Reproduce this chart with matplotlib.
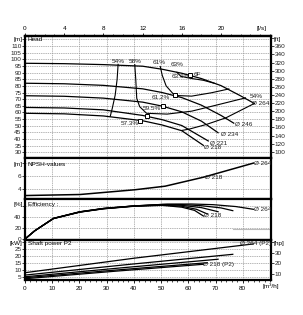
import matplotlib
matplotlib.use('Agg')
import matplotlib.pyplot as plt
from matplotlib.ticker import FixedLocator, NullFormatter

plt.rcParams['font.family'] = ['Liberation Sans', 'DejaVu Sans']

# flow in l/s
dia_labels = ['Ø 264', 'Ø 246', 'Ø 234', 'Ø 221', 'Ø 218']

# head curves [m]
head_q = [
    [0, 4, 8, 12, 14, 16, 18, 20, 22, 23.4],
    [0, 4, 8, 12, 14, 16, 18, 20, 21.3],
    [0, 4, 8, 12, 14, 16, 18, 19.7],
    [0, 4, 8, 12, 14, 16, 18.7],
    [0, 4, 8, 12, 14, 16, 18.2],
]
head_h = [
    [97.0, 96.7, 96.0, 94.8, 92.5, 89.5, 85.5, 80.2, 72.5, 66.8],
    [82.0, 81.6, 80.4, 77.8, 75.0, 71.2, 65.5, 57.8, 52.0],
    [72.6, 72.2, 70.8, 67.8, 64.8, 60.5, 53.5, 44.8],
    [63.8, 63.4, 62.0, 57.8, 54.6, 50.2, 38.6],
    [59.4, 59.0, 57.4, 53.8, 50.6, 46.3, 35.3],
]

# iso-efficiency lines on the head chart
iso_54_left_q = [9.5, 9.4, 9.2, 8.9, 8.7]
iso_54_left_h = [96.2, 85, 73, 63, 57.2]
iso_54_right_q = [23.4, 20.5, 18.5, 16.8, 16.0]
iso_54_right_h = [66.8, 56.0, 51.0, 47.6, 46.5]
iso_58_q = [11.2, 11.3, 11.4, 11.7, 12.4, 14.5, 17.0, 19.5, 22.5]
iso_58_h = [96.0, 85.0, 70.7, 64.4, 59.4, 58.8, 61.0, 65.5, 71.0]
iso_61_q = [13.8, 14.0, 14.4, 15.0, 15.3, 17.0, 19.0, 20.8]
iso_61_h = [94.6, 88.0, 80.0, 75.0, 72.8, 72.3, 74.8, 77.7]
iso_63_q = [15.5, 15.9, 16.8, 18.2, 19.3]
iso_63_h = [90.2, 87.2, 85.8, 84.2, 82.0]

# best efficiency points
bep_q = [16.8, 15.3, 14.05, 12.4, 11.7]
bep_h = [88.2, 72.8, 64.6, 57.0, 53.9]

# NPSH [m]
npsh_q = [0, 5.6, 11.2, 14.3, 18.2, 23.3]
npsh_v = [2.94, 3.1, 3.84, 4.4, 5.8, 8.0]

# efficiency [%]
eff_q = [
    [0, 1, 2.9, 5.6, 8, 11, 14.5, 17, 19.2, 21.5, 23.3],
    [0, 1, 2.9, 5.6, 8, 11, 14, 16, 18, 20, 21.2],
    [0, 1, 2.9, 5.6, 8, 11, 14, 16, 18, 19.7],
    [0, 1, 2.9, 5.6, 8, 11, 14, 16, 17.5, 18.6],
    [0, 1, 2.9, 5.6, 8, 11, 14, 16, 17.3, 18.2],
]
eff_v = [
    [0, 15, 37.6, 49.6, 55.5, 60, 63.4, 63.6, 62.4, 59, 54],
    [0, 15, 37.5, 49.4, 55.5, 60, 62.8, 62.6, 60.5, 56.5, 51.5],
    [0, 15, 37.3, 49.2, 55.3, 59.8, 62.3, 61.2, 57, 49.6],
    [0, 15, 37.2, 49.0, 55.0, 59.6, 61.8, 59.5, 54, 45.5],
    [0, 15, 37.0, 48.8, 54.8, 59.3, 61.2, 57.8, 52, 41.8],
]

# shaft power P2 [kW]
pow_q = [
    [0, 11.1, 23.3],
    [0, 10.6, 21.2],
    [0, 9.9, 19.7],
    [0, 9.3, 18.6],
    [0, 9.1, 18.2],
]
pow_v = [
    [8.3, 18.6, 28.8],
    [6.6, 14.2, 21.4],
    [5.4, 11.8, 17.9],
    [4.7, 10.2, 15.4],
    [4.0, 9.3, 14.3],
]

m3h_ticks = [0, 10, 20, 30, 40, 50, 60, 70, 80]
lps_ticks = [0, 4, 8, 12, 16, 20]

FS = 4.6
GRID = dict(color='#9a9a9a', linestyle=(0, (2, 1.2)), linewidth=0.5)
W, H = 303, 315


def panel(top, bottom):
    return fig.add_axes([25 / W, (H - bottom) / H, 246 / W, (bottom - top) / H])


def style(ax, ylim, yticks, ylabels):
    ax.set_xlim(0, 25.1)
    ax.set_ylim(*ylim)
    ax.set_xticks([m / 3.6 for m in m3h_ticks])
    ax.set_yticks(yticks)
    ax.set_yticklabels(ylabels)
    ax.grid(True, **GRID)
    ax.set_axisbelow(True)
    ax.tick_params(axis='y', labelsize=FS, length=2, width=0.6, pad=0.5, colors='#222222')
    ax.tick_params(axis='x', length=0, labelbottom=False)
    for s in ax.spines.values():
        s.set_linewidth(1.6)


def right_axis(ax, factor, ylim, ticks, labels):
    r = ax.twinx()
    r.set_ylim(ylim[0] / factor, ylim[1] / factor)
    r.set_yticks(ticks)
    r.set_yticklabels(labels)
    r.tick_params(axis='y', labelsize=FS, length=2, width=0.6, pad=0.5, colors='#222222')
    for s in r.spines.values():
        s.set_visible(False)
    return r


fig = plt.figure(figsize=(W / 100, H / 100), dpi=100)

# ---- head
ax1 = panel(36, 158)
head_ylim = (25.8, 117.5)
hticks = list(range(30, 120, 5))
style(ax1, head_ylim, hticks, [str(t) for t in hticks[:-1]] + [''])
for q, h in zip(head_q, head_h):
    ax1.plot(q, h, color='black', lw=0.9)
for q, h in [(iso_54_left_q, iso_54_left_h), (iso_54_right_q, iso_54_right_h),
             (iso_58_q, iso_58_h), (iso_61_q, iso_61_h), (iso_63_q, iso_63_h)]:
    ax1.plot(q, h, color='black', lw=0.8)
ax1.plot(bep_q, bep_h, ls='none', marker='s', ms=2.6, mfc='white', mec='black', mew=0.7)

for txt, x, y, ha in [('54%', 9.5, 96.6, 'center'), ('58%', 11.2, 96.6, 'center'),
                      ('61%', 13.7, 95.6, 'center'), ('63%', 15.5, 94.2, 'center'),
                      ('63.6%', 15.9, 85.3, 'center'), ('61.2%', 13.8, 69.2, 'center'),
                      ('59.5%', 12.9, 61.3, 'center'), ('57.3%', 10.7, 50.2, 'center')]:
    ax1.text(x, y, txt, fontsize=FS, ha=ha, va='bottom', color='#222222')
ax1.text(17.2, 88.6, '6F', fontsize=FS, ha='left', va='center', color='#222222')
ax1.text(23.6, 70.3, '54%', fontsize=FS, ha='center', va='bottom', color='#222222')
for txt, x, y in [('Ø 264', 23.2, 66.8), ('Ø 246', 21.4, 51.2), ('Ø 234', 20.0, 43.6),
                  ('Ø 221', 18.9, 36.8), ('Ø 218', 18.3, 33.6)]:
    ax1.text(x, y, txt, fontsize=FS, ha='left', va='center', color='#222222')
ax1.text(-0.01, 0.975, '[m]', transform=ax1.transAxes, fontsize=FS, ha='right', va='center')
ax1.text(0.012, 0.975, 'Head', transform=ax1.transAxes, fontsize=FS, ha='left', va='center')
ftt = list(range(100, 381, 20))
right_axis(ax1, 0.3048, head_ylim, ftt, [str(t) for t in ftt[:-1]] + [''])
ax1.text(1.01, 0.975, '[ft]', transform=ax1.transAxes, fontsize=FS, ha='left', va='center')

top = ax1.secondary_xaxis('top')
top.set_xticks(lps_ticks)
top.xaxis.set_minor_locator(FixedLocator(list(range(0, 26))))
top.tick_params(axis='x', which='major', labelsize=FS, length=2.5, width=0.6, pad=1)
top.tick_params(axis='x', which='minor', length=1.5, width=0.5)
top.spines['top'].set_linewidth(1.6)
ax1.text(24.1, 121.5, '[l/s]', fontsize=FS, ha='center', va='bottom')

# ---- NPSH
ax2 = panel(158, 199)
style(ax2, (2.4, 8.8), [4, 6, 8], ['4', '6', ''])
ax2.plot(npsh_q, npsh_v, color='black', lw=1.1)
ax2.text(23.4, 8.0, 'Ø 264', fontsize=FS, ha='left', va='center', color='#222222')
ax2.text(18.4, 5.8, 'Ø 218', fontsize=FS, ha='left', va='center', color='#222222')
ax2.text(-0.01, 0.83, '[m]', transform=ax2.transAxes, fontsize=FS, ha='right', va='center')
ax2.text(0.012, 0.83, 'NPSH-values', transform=ax2.transAxes, fontsize=FS, ha='left', va='center')

# ---- efficiency
ax3 = panel(199, 240)
style(ax3, (-1.8, 72.7), [0, 20, 40, 60], ['0', '20', '40', ''])
for q, v in zip(eff_q, eff_v):
    ax3.plot(q, v, color='black', lw=0.9)
ax3.plot([21.2, 25.1], [17.6, 17.6], color='#bbbbbb', lw=0.8)
ax3.text(23.4, 54, 'Ø 264', fontsize=FS, ha='left', va='center', color='#222222')
ax3.text(18.3, 43.2, 'Ø 218', fontsize=FS, ha='left', va='center', color='#222222')
ax3.text(-0.01, 0.87, '[%]', transform=ax3.transAxes, fontsize=FS, ha='right', va='center')
ax3.text(0.012, 0.87, 'Efficiency :', transform=ax3.transAxes, fontsize=FS, ha='left', va='center')

# ---- shaft power
ax4 = panel(240, 280)
pow_ylim = (3.1, 31.6)
style(ax4, pow_ylim, [5, 10, 15, 20, 25, 30], ['5', '10', '15', '20', '25', ''])
for q, v in zip(pow_q, pow_v):
    ax4.plot(q, v, color='black', lw=0.9)
ax4.plot([21.2, 25.1], [30.4, 30.4], color='#bbbbbb', lw=0.8)
ax4.text(21.9, 29.0, 'Ø 264 (P2)', fontsize=FS, ha='left', va='center', color='#222222')
ax4.text(18.2, 14.3, 'Ø 218 (P2)', fontsize=FS, ha='left', va='center', color='#222222')
ax4.text(-0.01, 0.92, '[kW]', transform=ax4.transAxes, fontsize=FS, ha='right', va='center')
ax4.text(0.012, 0.92, 'Shaft power P2', transform=ax4.transAxes, fontsize=FS, ha='left', va='center')
right_axis(ax4, 0.7457, pow_ylim, [10, 20, 30, 40], ['10', '20', '30', ''])
ax4.text(1.01, 0.92, '[hp]', transform=ax4.transAxes, fontsize=FS, ha='left', va='center')

ax4.tick_params(axis='x', which='major', length=2.5, width=0.6, labelbottom=True,
                labelsize=FS, pad=1.5)
ax4.set_xticklabels([str(m) for m in m3h_ticks])
ax4.xaxis.set_minor_locator(FixedLocator([m / 3.6 for m in range(0, 91, 2)]))
ax4.xaxis.set_minor_formatter(NullFormatter())
ax4.tick_params(axis='x', which='minor', length=1.5, width=0.5)
ax4.text(25.1, -0.5, '[m³/h]', fontsize=FS, ha='center', va='top',
         transform=ax4.get_xaxis_transform(), clip_on=False)
ax4.texts[-1].set_position((25.1, -0.09))

fig.savefig('out.png', dpi=100)
